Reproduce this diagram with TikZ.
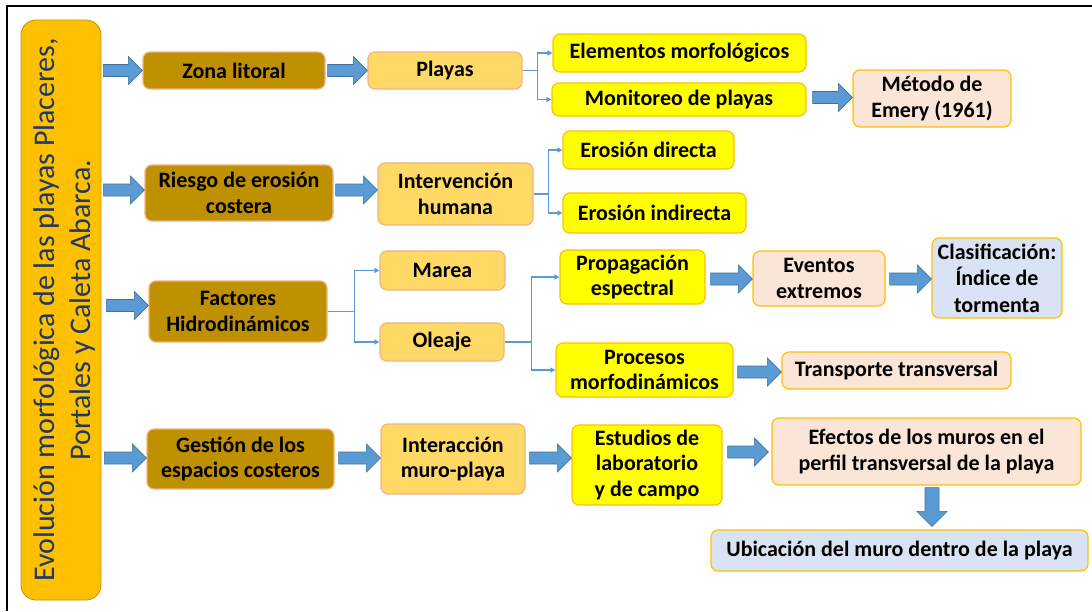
\documentclass[tikz,border=0pt]{standalone}
\usepackage{fontspec}
\setmainfont{Carlito}
\usetikzlibrary{arrows.meta,calc}
\definecolor{gold}{HTML}{FFC000}
\definecolor{goldb}{HTML}{BF9000}
\definecolor{dgold}{HTML}{BF9000}
\definecolor{lorange}{HTML}{FFD966}
\definecolor{orbord}{HTML}{F4B183}
\definecolor{peach}{HTML}{FBE5D6}
\definecolor{lblue}{HTML}{DAE3F3}
\definecolor{ablue}{HTML}{5B9BD5}
\definecolor{ablueb}{HTML}{41719C}
\definecolor{navy}{HTML}{1F3864}
\definecolor{ybord}{HTML}{FFC000}
\definecolor{yfill}{HTML}{FFFF00}
\begin{document}
\begin{tikzpicture}[x=1pt,y=-1pt,
 box/.style={rounded corners=7pt, line width=1.2pt, align=center, inner sep=0pt,
   font=\bfseries\fontsize{22}{25.5}\selectfont, text=black},
 lvla/.style={box, fill=dgold, draw=orbord},
 lvlb/.style={box, fill=lorange, draw=orbord},
 lvlc/.style={box, fill=yfill, draw=ybord},
 lvld/.style={box, fill=peach, draw=ybord},
 lvle/.style={box, fill=lblue, draw=ybord},
 sz/.style 2 args={minimum width=#1pt, minimum height=#2pt},
 thinarr/.style={draw=ablue, line width=1.1pt, -{Triangle[length=5pt,width=5pt]}},
 blk/.style={draw=ablueb, fill=ablue, line width=0.6pt,
   to path={let \p1=(\tikztostart), \p2=(\tikztotarget) in
     (\x1,\y1+6pt) -- (\x2-14pt,\y1+6pt) -- (\x2-14pt,\y1+14pt) -- (\x2,\y1)
     -- (\x2-14pt,\y1-14pt) -- (\x2-14pt,\y1-6pt) -- (\x1,\y1-6pt) -- cycle}},
 blkv/.style={draw=ablueb, fill=ablue, line width=0.6pt,
   to path={let \p1=(\tikztostart), \p2=(\tikztotarget) in
     (\x1-7pt,\y1) -- (\x1-7pt,\y2+15pt) -- (\x1-15pt,\y2+15pt) -- (\x1,\y2)
     -- (\x1+15pt,\y2+15pt) -- (\x1+7pt,\y2+15pt) -- (\x1+7pt,\y1) -- cycle}},
 titlebox/.style={rounded corners=15pt, fill=gold, draw=goldb, line width=0.8pt,
   rotate=90, align=center, inner sep=0pt, text=navy,
   font=\fontsize{30}{36.5}\selectfont}
]
\useasboundingbox (0,0) rectangle (1092,611);
\draw[line width=2.5pt] (7,611) -- (7,6) -- (1092,6);

% title
\node[titlebox, minimum width=580pt, minimum height=80pt] (title) at (61,310)
  {\raisebox{-4pt}[\height][\depth]{\begin{tabular}{@{}c@{}}Evolución morfológica de las playas Placeres,\\Portales y Caleta Abarca.\end{tabular}}};

% row 1
\node[lvla, sz={182}{37}] (zona) at (234,70.5) {Zona litoral};
\node[lvlb, sz={154}{37}] (playas) at (445,70.5) {Playas};
\node[lvlc, sz={253}{38}] (elem) at (679.5,53) {Elementos morfológicos};
\node[lvlc, sz={254}{33}] (monit) at (679,99.5) {Monitoreo de playas};
\node[lvld, sz={158}{57}] (metodo) at (932,98.5) {Método de\\Emery (1961)};

% row 2
\node[lvla, sz={188}{56}] (riesgo) at (239,193) {Riesgo de erosión\\costera};
\node[lvlb, sz={155}{62}] (interv) at (455.5,194) {Intervención\\humana};
\node[lvlc, sz={171}{38}] (erodir) at (648.5,150) {Erosión directa};
\node[lvlc, sz={183}{40}] (eroind) at (654.5,213) {Erosión indirecta};

% row 3
\node[lvla, sz={178}{61}] (factores) at (238,311.5) {Factores\\Hidrodinámicos};
\node[lvlb, sz={125}{39}] (marea) at (442.5,270.5) {Marea};
\node[lvlb, sz={124}{38}] (oleaje) at (442,342) {Oleaje};
\node[lvlc, sz={145}{54}] (propag) at (632.5,277) {Propagación\\espectral};
\node[lvld, sz={132}{55}] (eventos) at (819,278.5) {Eventos\\extremos};
\node[lvle, sz={130}{80}, font=\bfseries\fontsize{22}{26.5}\selectfont] (clasif) at (997,278) {Clasificación:\\Índice de\\tormenta};
\node[lvlc, sz={177}{54}] (procesos) at (644.5,370) {Procesos\\morfodinámicos};
\node[lvld, sz={229}{37}] (transp) at (896.5,370.5) {Transporte transversal};

% row 4
\node[lvla, sz={187}{60}] (gestion) at (240.5,459) {Gestión de los\\espacios costeros};
\node[lvlb, sz={144}{70}] (interac) at (453,459) {Interacción\\muro-playa};
\node[lvlc, sz={150}{80}] (estudios) at (647,465) {Estudios de\\laboratorio\\y de campo};
\node[lvld, sz={309}{67}] (efectos) at (926.5,451.5) {Efectos de los muros en el\\perfil transversal de la playa};
\node[lvle, sz={377}{41}] (ubic) at (899.5,550.5) {Ubicación del muro dentro de la playa};

% block arrows
\draw[blk] ($(title.south |- zona.west)+(2,0)$) to (zona.west);
\draw[blk] ($(zona.east)+(2,0)$) to (playas.west);
\draw[blk] ($(monit.east)+(6,-2)$) to ($(metodo.west)+(0,-1.5)$);
\draw[blk] ($(title.south |- riesgo.west)+(2,-3)$) to ($(riesgo.west)+(0,-3)$);
\draw[blk] ($(riesgo.east)+(2,-3)$) to ($(interv.west)+(0,-4)$);
\draw[blk] ($(title.south |- factores.west)+(5,-6)$) to ($(factores.west)+(0,-6)$);
\draw[blk] ($(propag.east)+(5,2)$) to ($(eventos.west)+(0,0.5)$);
\draw[blk] ($(eventos.east)+(4,0.5)$) to ($(clasif.west)+(0,1)$);
\draw[blk] ($(procesos.east)+(4,2)$) to ($(transp.west)+(0,1.5)$);
\draw[blk] ($(title.south |- gestion.west)+(3,-1)$) to ($(gestion.west)+(0,-1)$);
\draw[blk] ($(gestion.east)+(4,-1)$) to ($(interac.west)+(0,-1)$);
\draw[blk] ($(interac.east)+(4,-1)$) to ($(estudios.west)+(0,-7)$);
\draw[blk] ($(estudios.east)+(5,-13)$) to ($(efectos.west)+(-3,0.5)$);
\draw[blkv] ($(efectos.south)+(5.5,2)$) to ($(ubic.north -| efectos.south)+(5.5,-3)$);

% thin connectors
\draw[thinarr] (playas.east) -- ++(15,0) |- (elem.west);
\draw[thinarr] (playas.east) -- ++(15,0) |- (monit.west);
\draw[thinarr] (interv.east) -- ++(15,0) |- (erodir.west);
\draw[thinarr] (interv.east) -- ++(15,0) |- (eroind.west);
\draw[thinarr] (factores.east) -- ++(27,0) |- (marea.west);
\draw[thinarr] (factores.east) -- ++(27,0) |- (oleaje.west);
\draw[thinarr] (oleaje.east) -- ++(27,0) |- (propag.west);
\draw[thinarr] (oleaje.east) -- ++(27,0) |- (procesos.west);
\end{tikzpicture}
\end{document}
